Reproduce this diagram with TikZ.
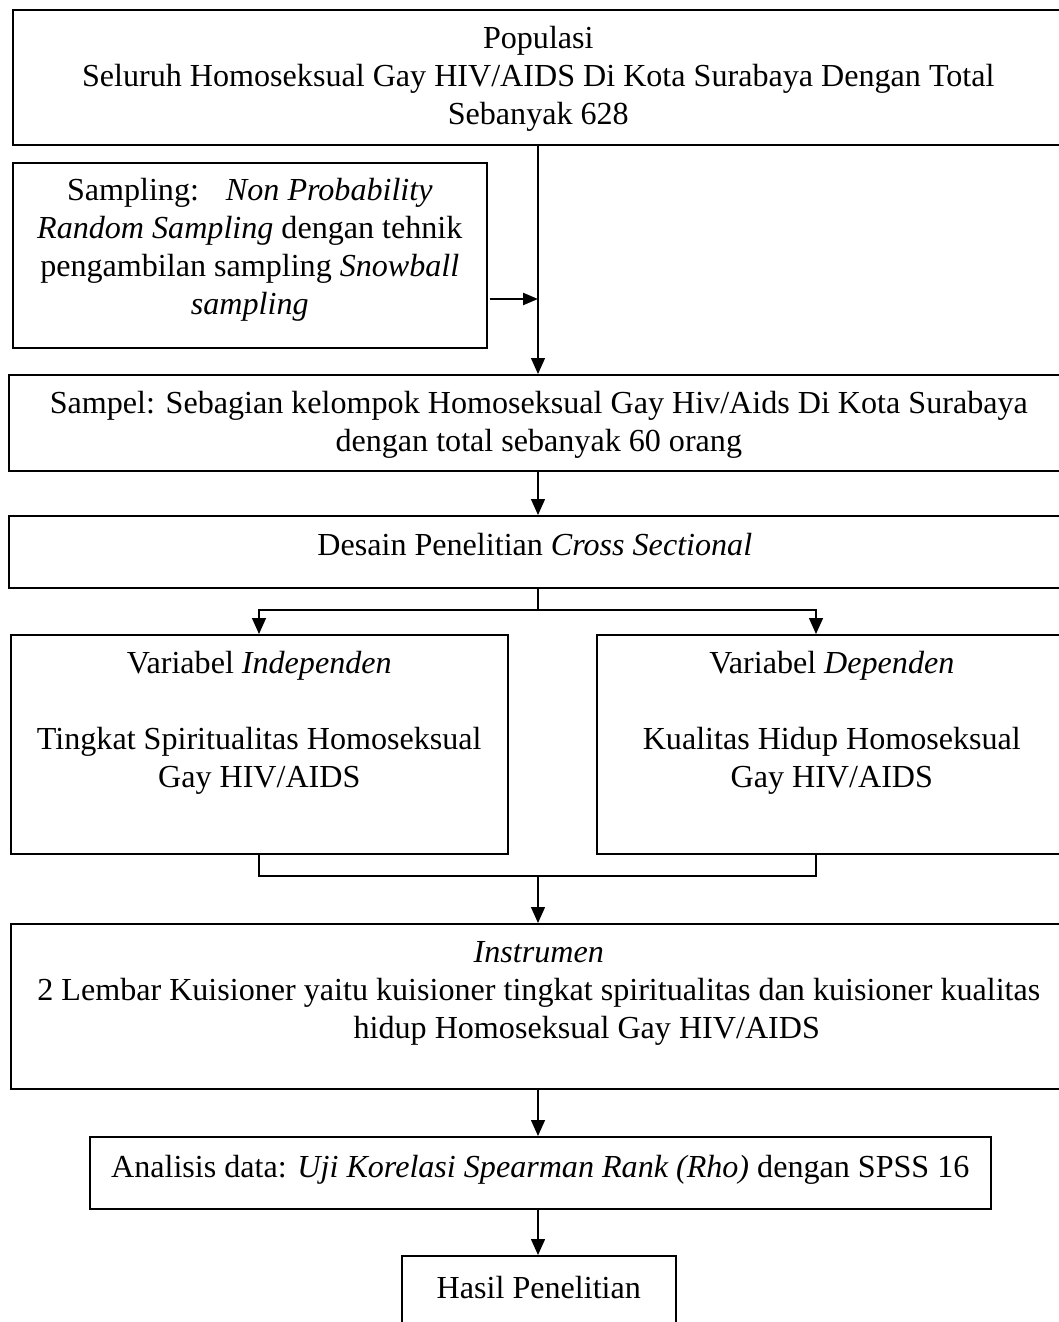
\documentclass[tikz,border=0pt]{standalone}
\usepackage{fontspec}
\setmainfont{Liberation Serif}
\usetikzlibrary{arrows.meta,calc}
\tikzset{
  box/.style={draw, line width=1.6pt, inner sep=0pt, anchor=north west},
  txt/.style={anchor=north, inner sep=0pt, align=center, font=\fontsize{32.1}{38}\selectfont},
  arr/.style={-{Triangle[length=16pt,width=14pt]}, line width=1.4pt},
  arrs/.style={-{Triangle[length=15pt,width=12pt]}, line width=2.2pt},
  ln/.style={line width=1.4pt}
}
\begin{document}
\begin{tikzpicture}[x=1pt,y=-1pt]
\useasboundingbox (0,0) rectangle (1059,1322);
\clip (0,0) rectangle (1059,1322);
% boxes
\node[box, minimum width=1051pt, minimum height=135pt] (pop) at (12,9) {};
\node[box, minimum width=474pt, minimum height=185pt] (samp) at (12,162) {};
\node[box, minimum width=1060pt, minimum height=96pt] (sampel) at (8,374) {};
\node[box, minimum width=1058pt, minimum height=72pt] (desain) at (8,515) {};
\node[box, minimum width=497pt, minimum height=219pt] (indep) at (10,634) {};
\node[box, minimum width=470pt, minimum height=219pt] (dep) at (596,634) {};
\node[box, minimum width=1056pt, minimum height=165pt] (instr) at (10,923) {};
\node[box, minimum width=901pt, minimum height=72pt] (anal) at (89,1136) {};
\node[box, minimum width=274pt, minimum height=100pt] (hasil) at (401,1255) {};
% texts
\node[txt] (popT) at ($(pop.north)+(0,13)$) {\strut Populasi\\Seluruh Homoseksual Gay HIV/AIDS Di Kota Surabaya Dengan Total\\Sebanyak 628};
\node[txt] (sampT) at ($(samp.north)+(0,12)$) {\strut Sampling:\hspace{27pt}\textit{Non Probability}\\\textit{Random Sampling} dengan tehnik\\pengambilan sampling \textit{Snowball}\\\textit{sampling}};
\node[txt] (sampelT) at ($(sampel.north)+(0,13)$) {\strut Sampel: Sebagian kelompok Homoseksual Gay Hiv/Aids Di Kota Surabaya\\dengan total sebanyak 60 orang};
\node[txt] (desainT) at ($(desain.north)+(-3,14)$) {\strut Desain Penelitian \textit{Cross Sectional}};
\node[txt] (indepT) at ($(indep.north)+(0,13)$) {\strut Variabel \textit{Independen}\\[38pt]Tingkat Spiritualitas Homoseksual\\Gay HIV/AIDS};
\node[txt] (depT) at ($(dep.north)+(0,13)$) {\strut Variabel \textit{Dependen}\\[38pt]Kualitas Hidup Homoseksual\\Gay HIV/AIDS};
\node[txt] (instrT) at ($(instr.north)+(0,13)$) {\strut \textit{Instrumen}\\2 Lembar Kuisioner yaitu kuisioner tingkat spiritualitas dan kuisioner kualitas\\\hspace*{96pt}hidup Homoseksual Gay HIV/AIDS};
\node[txt] (analT) at ($(anal.north)+(0,15)$) {\strut Analisis data: \textit{Uji Korelasi Spearman Rank (Rho)} dengan SPSS 16};
\node[txt] (hasilT) at ($(hasil.north)+(0,17)$) {\strut Hasil Penelitian};
% connectors
\coordinate (spine) at (538,0);
\coordinate (sj) at (538,299);
\coordinate (bt) at (538,610);
\coordinate (bl) at (259,610);
\coordinate (br) at (816,610);
\coordinate (ml) at (259,876);
\coordinate (mr) at (816,876);
\coordinate (mc) at (538,876);
\draw[arr] (pop.south -| spine) -- (sampel.north -| spine);
\draw[arrs] ($(samp.east |- sj)+(2,0)$) -- (sj);
\draw[arr] (sampel.south -| spine) -- (desain.north -| spine);
\draw[ln] (desain.south -| spine) -- (bt);
\draw[arr] (bt) -| (bl |- indep.north);
\draw[arr] (bt) -| (br |- dep.north);
\draw[ln] (indep.south -| ml) -- (ml) -- (mr) -- (dep.south -| mr);
\draw[arr] (mc) -- (instr.north -| mc);
\draw[arr] (instr.south -| spine) -- (anal.north -| spine);
\draw[arr] (anal.south -| spine) -- (hasil.north -| spine);
\end{tikzpicture}
\end{document}
